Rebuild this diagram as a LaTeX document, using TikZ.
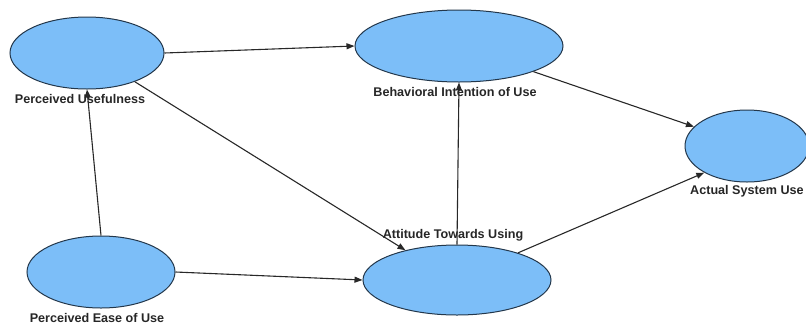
\documentclass[tikz,border=0pt]{standalone}
\usepackage{fontspec}
\setmainfont{Liberation Sans}
\usetikzlibrary{arrows.meta,shapes.geometric}
\definecolor{ellfill}{RGB}{124,190,248}
\definecolor{elldraw}{RGB}{35,55,75}
\definecolor{arr}{RGB}{40,40,40}
\begin{document}
\begin{tikzpicture}[x=1pt,y=-1pt,
  construct/.style={ellipse,draw=elldraw,fill=ellfill,line width=1pt,inner sep=0pt},
  lbl/.style={font=\bfseries\fontsize{12.6}{13}\selectfont,text=black!85,inner sep=0pt},
  link/.style={draw=arr,line width=1.1pt,-{Triangle[length=8pt,width=6pt]}}]
\useasboundingbox (0,0) rectangle (806,325);
\path[clip] (0,0) rectangle (806,325);
\node[construct,minimum width=154pt,minimum height=72pt] (pu) at (87,53) {};
\node[construct,minimum width=208pt,minimum height=72pt] (biu) at (459,46) {};
\node[construct,minimum width=124pt,minimum height=72pt] (asu) at (747,146) {};
\node[construct,minimum width=148pt,minimum height=72pt] (peu) at (101,272) {};
\node[construct,minimum width=188pt,minimum height=70pt] (atu) at (457,280) {};
\node[lbl] (pul) at (80,99) {Perceived Usefulness};
\node[lbl] (biul) at (455,92) {Behavioral Intention of Use};
\node[lbl,anchor=west] (asul) at (690,191) {Actual System Use};
\node[lbl] (peul) at (97,318) {Perceived Ease of Use};
\node[lbl] (atul) at (453,235) {Attitude Towards Using};
\draw[link] (pu.-31) -- (atu.150);
\draw[link] (pu.east) -- (biu.west);
\draw[link] (peu.north) -- (pu.south);
\draw[link] (peu.east) -- (atu.west);
\draw[link] (atu.north) -- (biu.south);
\draw[link] (biu.-19) -- (asu.160);
\draw[link] (atu.24) -- (asu.-148);
\end{tikzpicture}
\end{document}
